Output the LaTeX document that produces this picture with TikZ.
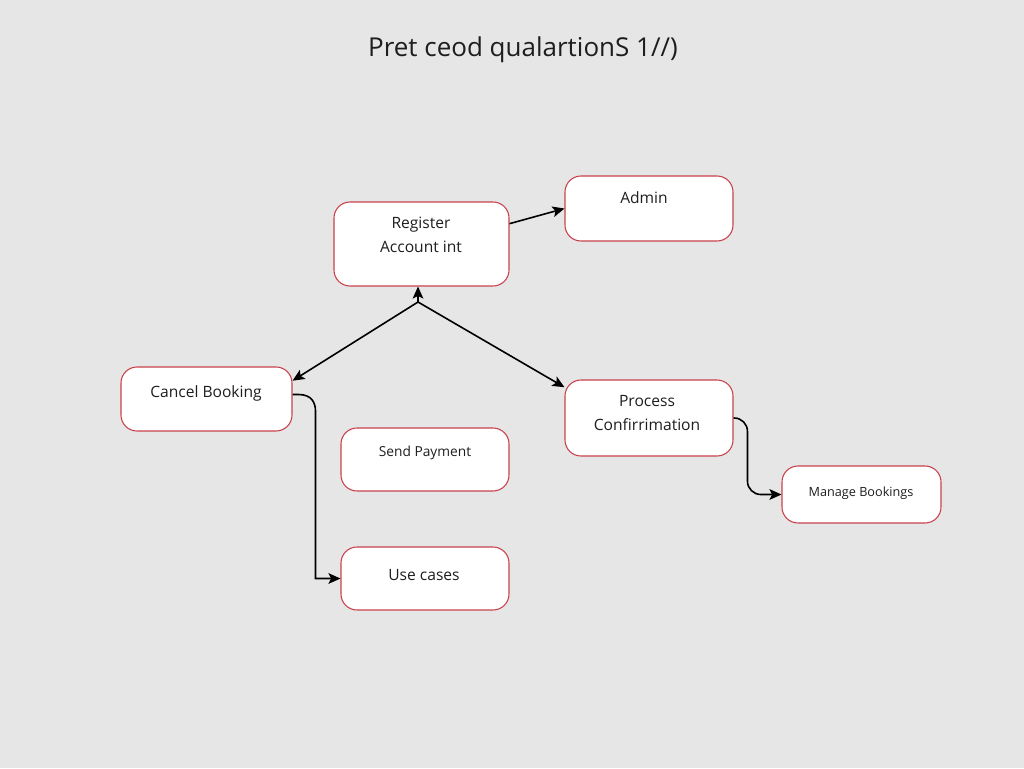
\documentclass[tikz,border=0pt]{standalone}
\usepackage{fontspec}
\setmainfont{Open Sans}
\usetikzlibrary{arrows.meta,calc}
\definecolor{bg}{HTML}{E6E6E6}
\definecolor{boxred}{HTML}{C8424C}
\definecolor{ink}{HTML}{1E1E1E}
\tikzset{
  ucbox/.style={draw=boxred, fill=white, line width=0.8pt, rounded corners=12pt, inner sep=0pt},
  uctext/.style={text=ink, font=\fontsize{11.7}{18}\selectfont, align=center, inner sep=0pt},
  arr/.style={draw=black, line width=1.2pt, -{Stealth[length=9pt,width=8pt,inset=2pt]}},
}
\begin{document}
\begin{tikzpicture}[x=0.75pt,y=-0.75pt]
\fill[bg] (0,0) rectangle (1024,768);
\useasboundingbox (0,0) rectangle (1024,768);
\node[text=ink, font=\fontsize{19.5}{22}\selectfont, inner sep=0pt] (title) at (523,50) {Pret ceod qualartionS 1//)};
% boxes
\node[ucbox, minimum width=131.25pt, minimum height=63pt] (reg) at (421.5,244) {};
\node[ucbox, minimum width=126pt, minimum height=48.75pt] (admin) at (649,208.5) {};
\node[ucbox, minimum width=128.25pt, minimum height=48pt] (cancel) at (206.5,399) {};
\node[ucbox, minimum width=126pt, minimum height=47.25pt] (send) at (425,459.5) {};
\node[ucbox, minimum width=126pt, minimum height=47.25pt] (use) at (425,578.5) {};
\node[ucbox, minimum width=126pt, minimum height=57pt] (proc) at (649,418) {};
\node[ucbox, minimum width=119.25pt, minimum height=42.75pt] (manage) at (861.5,494.5) {};
% texts
\node[uctext] (regt) at (421,235) {Register\\Account int};
\node[uctext] (admint) at (644,198) {Admin};
\node[uctext] (cancelt) at (206,393) {Cancel Booking};
\node[uctext, font=\fontsize{10.3}{18}\selectfont] (sendt) at (425,453) {Send Payment};
\node[uctext] (uset) at (424,575) {Use cases};
\node[uctext] (proct) at (647,413) {Process\\Confirrimation};
\node[uctext, font=\fontsize{9.5}{18}\selectfont] (managet) at (861,493) {Manage Bookings};
% connectors
\coordinate (j) at (418,302);
\draw[arr] (reg.13) -- (admin.west);
\draw[arr] (j) -- (j |- reg.south);
\draw[arr] (j) -- (cancel.12);
\draw[arr] (j) -- (proc.160);
\coordinate (c0) at ($(cancel.3)+(6,0)$);
\coordinate (c1) at ($(cancel.3)+(23,17)$);
\coordinate (c2) at ($(use.west)+(-25,0)$);
\draw[arr] (cancel.3) -- (c0) .. controls ($(c0)+(13,0)$) and ($(c1)+(0,-9)$) .. (c1) -- (c2) -- (use.west);
\draw[arr, rounded corners=10pt] (proc.east) -| ($(manage.west)+(-34,0)$) -- (manage.west);
\end{tikzpicture}
\end{document}
